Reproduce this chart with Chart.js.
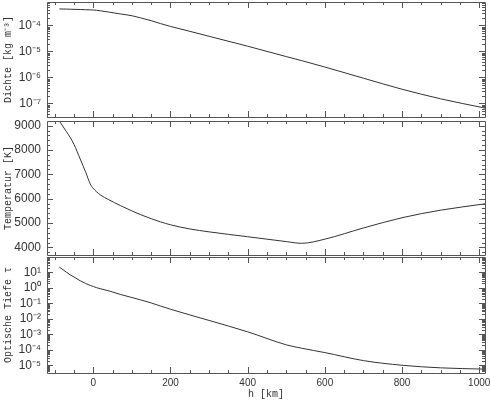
<!DOCTYPE html>
<html>
<head>
<meta charset="utf-8">
<script src="https://cdn.jsdelivr.net/npm/chart.js@4.4.1/dist/chart.umd.min.js"></script>
<style>
body { margin: 0; background: #fff; width: 490px; height: 400px; position: relative; overflow: hidden; }
canvas { position: absolute; left: 0; }
</style>
</head>
<body>
<canvas id="dichte" width="490" height="119" style="top:0"></canvas>
<canvas id="temp" width="490" height="137" style="top:119px"></canvas>
<canvas id="tau" width="490" height="144" style="top:256px"></canvas>
<script>
// Höhe h [km]
var hoehe = [-88, -70, -60, -50, -34, -20, -8, 0, 8, 18, 40, 70, 100, 122, 150, 174, 200, 250, 300, 400, 500, 540, 600, 700, 800, 900, 1015];
// Dichte [kg m^-3]
var dichte = [4.27e-4, 4.22e-4, 4.17e-4, 4.12e-4, 4.07e-4, 3.98e-4, 3.94e-4, 3.89e-4, 3.8e-4, 3.63e-4, 3.24e-4, 2.75e-4, 2.34e-4, 1.95e-4, 1.51e-4, 1.17e-4, 9.1e-5, 5.9e-5, 3.8e-5, 1.58e-5, 6.3e-6, 4.4e-6, 2.5e-6, 9.3e-7, 3.5e-7, 1.5e-7, 6.6e-8];
// Temperatur [K]
var temperatur = [9190, 8760, 8520, 8230, 7630, 7100, 6610, 6420, 6290, 6160, 5960, 5720, 5500, 5350, 5180, 5050, 4930, 4760, 4640, 4440, 4240, 4170, 4340, 4800, 5220, 5530, 5790];
// Optische Tiefe tau
var tiefe = [22.4, 10.5, 7.1, 5.1, 2.9, 1.95, 1.45, 1.23, 1.05, 0.89, 0.65, 0.38, 0.24, 0.17, 0.107, 0.068, 0.042, 0.018, 7.9e-3, 1.45e-3, 2.1e-4, 1.26e-4, 6.6e-5, 2.0e-5, 1.0e-5, 6.8e-6, 5.6e-6];

var xTicks = [0, 200, 400, 600, 800, 1000];
var dichteTicks = [1e-4, 1e-5, 1e-6, 1e-7];
var tempTicks = [4000, 5000, 6000, 7000, 8000, 9000];
var tiefeTicks = [10, 1, 0.1, 0.01, 1e-3, 1e-4, 1e-5];

var hoch = { '-': '\u207B', '0': '\u2070', '1': '\u00B9', '2': '\u00B2', '3': '\u00B3', '4': '\u2074', '5': '\u2075', '6': '\u2076', '7': '\u2077', '8': '\u2078', '9': '\u2079' };
function zehnHoch(v) {
    var e = String(Math.round(Math.log10(v)));
    return '10' + e.split('').map(function(c) { return hoch[c]; }).join('');
}

function punkte(werte) {
    return hoehe.map(function(h, i) { return { x: h, y: werte[i] }; });
}

// Rahmen und nach innen zeigende Striche wie im Original
var innenTicks = {
    id: 'innenTicks',
    afterDraw: function(chart) {
        var ctx = chart.ctx, a = chart.chartArea, x = chart.scales.x, y = chart.scales.y;
        ctx.save();
        ctx.strokeStyle = '#555';
        ctx.lineWidth = 1;
        ctx.beginPath();
        ctx.rect(Math.round(a.left) + 0.5, Math.round(a.top) + 0.5, Math.round(a.right - a.left), Math.round(a.bottom - a.top));
        for (var v = -100; v <= 1000; v += 50) {
            var px = Math.round(x.getPixelForValue(v)) + 0.5;
            var len = v % 200 === 0 ? 6 : 3;
            ctx.moveTo(px, a.top); ctx.lineTo(px, a.top + len);
            ctx.moveTo(px, a.bottom); ctx.lineTo(px, a.bottom - len);
        }
        var yv = [];
        if (y.type === 'logarithmic') {
            for (var d = Math.floor(Math.log10(y.min)); d <= Math.ceil(Math.log10(y.max)); d++)
                for (var k = 1; k < 10; k++) yv.push([k * Math.pow(10, d), k === 1]);
        } else {
            for (var t = 3000; t <= 10000; t += 200) yv.push([t, t % 1000 === 0]);
        }
        yv.forEach(function(p) {
            if (p[0] < y.min || p[0] > y.max) return;
            var py = Math.round(y.getPixelForValue(p[0])) + 0.5;
            var len = p[1] ? 6 : 3;
            ctx.moveTo(a.left, py); ctx.lineTo(a.left + len, py);
            ctx.moveTo(a.right, py); ctx.lineTo(a.right - len, py);
        });
        ctx.stroke();
        ctx.restore();
    }
};

function panel(id, werte, yScale, padding, xScale) {
    return new Chart(document.getElementById(id), {
        type: 'line',
        data: {
            datasets: [{
                data: punkte(werte),
                borderColor: '#333',
                borderWidth: 1,
                pointRadius: 0,
                cubicInterpolationMode: 'monotone',
                fill: false
            }]
        },
        options: {
            responsive: false,
            animation: false,
            layout: { padding: padding },
            plugins: { legend: { display: false }, tooltip: { enabled: false } },
            scales: { x: xScale, y: yScale }
        },
        plugins: [innenTicks]
    });
}

var xVersteckt = { type: 'linear', min: -120, max: 1015, display: false };
var titelFont = { family: 'Liberation Mono', size: 10 };
var tickFont = { family: 'Liberation Sans', size: 12 };

function yAchse(typ, min, max, ticks, titel, format) {
    return {
        type: typ, min: min, max: max,
        grid: { display: false, drawTicks: false },
        border: { display: false },
        afterFit: function(s) { s.width = 47; s.paddingTop = 0; s.paddingBottom = 0; },
        afterBuildTicks: function(s) { s.ticks = ticks.map(function(v) { return { value: v }; }); },
        ticks: { autoSkip: false, padding: 6, color: '#333', font: tickFont, callback: format },
        title: { display: true, text: titel, color: '#333', font: titelFont, padding: { top: 2, bottom: 0 } }
    };
}

panel('dichte', dichte,
    yAchse('logarithmic', 3.2e-8, 7.9e-4, dichteTicks, 'Dichte [kg m\u207B\u00B3]', zehnHoch),
    { top: 2, bottom: 2, left: 0, right: 5 }, xVersteckt);

panel('temp', temperatur,
    yAchse('linear', 3690, 9190, tempTicks, 'Temperatur [K]', function(v) { return String(v); }),
    { top: 2, bottom: 1, left: 0, right: 5 }, xVersteckt);

panel('tau', tiefe,
    yAchse('logarithmic', 3.16e-6, 100, tiefeTicks, 'Optische Tiefe \u03C4', zehnHoch),
    { top: 1, bottom: 0, left: 0, right: 5 },
    {
        type: 'linear', min: -120, max: 1015,
        grid: { display: false, drawTicks: false },
        border: { display: false },
        afterFit: function(s) { s.height = 27; s.paddingLeft = 0; s.paddingRight = 0; },
        afterBuildTicks: function(s) { s.ticks = xTicks.map(function(v) { return { value: v }; }); },
        ticks: { autoSkip: false, maxRotation: 0, padding: 4, color: '#333', font: { family: 'Liberation Sans', size: 10 }, callback: function(v) { return String(v); } },
        title: { display: true, text: 'h [km]', color: '#333', font: titelFont, padding: { top: 0, bottom: 0 } }
    });
</script>
</body>
</html>
